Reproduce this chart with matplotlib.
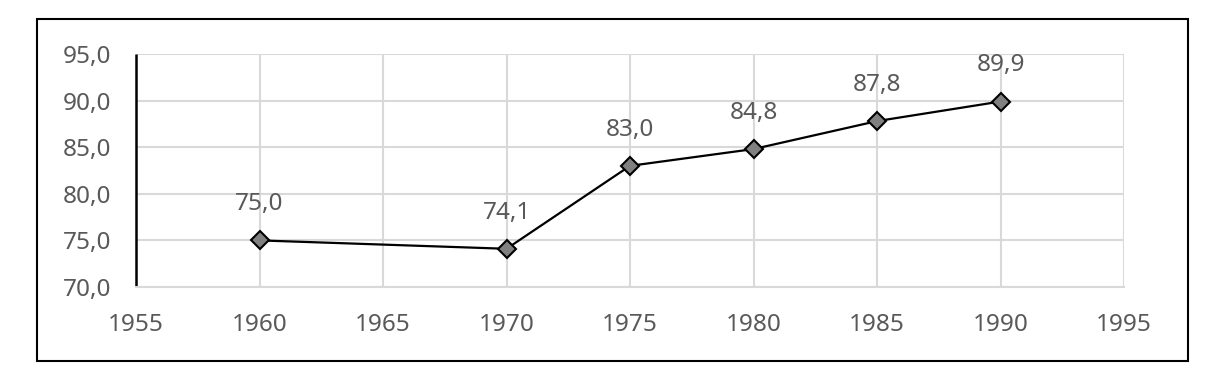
import matplotlib
matplotlib.use("Agg")
import matplotlib.pyplot as plt
from matplotlib.ticker import FuncFormatter, MultipleLocator
from matplotlib.patches import Rectangle

years = [1960, 1970, 1975, 1980, 1985, 1990]
values = [75.0, 74.1, 83.0, 84.8, 87.8, 89.9]

plt.rcParams['font.family'] = ['Noto Sans', 'DejaVu Sans']
txt = '#595959'
fs = 17.5

fig = plt.figure(figsize=(12.13, 3.72), dpi=100)
W, H = 1213, 372
ax = fig.add_axes([136 / W, 1 - 287 / H, (1124 - 136) / W, (287 - 54) / H])

ax.set_xlim(1955, 1995)
ax.set_ylim(70, 95)
ax.xaxis.set_major_locator(MultipleLocator(5))
ax.yaxis.set_major_locator(MultipleLocator(5))
ax.yaxis.set_major_formatter(FuncFormatter(lambda v, p: f"{v:.1f}".replace('.', ',')))
ax.grid(True, color='#d9d9d9', linewidth=1.5)
ax.set_axisbelow(True)
for s in ['top', 'right']:
    ax.spines[s].set_visible(False)
ax.spines['bottom'].set_color('#d9d9d9')
ax.spines['bottom'].set_linewidth(1.5)
ax.spines['left'].set_color('black')
ax.spines['left'].set_linewidth(1.8)
ax.spines['left'].set_capstyle('butt')
ax.tick_params(length=0, labelsize=fs, colors=txt)
ax.tick_params(axis='y', pad=18)
ax.tick_params(axis='x', pad=19)

ax.plot(years, values, color='black', linewidth=1.6, marker='D', markersize=9,
        markerfacecolor='#808080', markeredgecolor='black', markeredgewidth=1.5, zorder=3)
for x, y in zip(years, values):
    ax.annotate(f"{y:.1f}".replace('.', ','), (x, y), xytext=(0, 26), textcoords='offset points',
                ha='center', va='center', fontsize=fs, color=txt)

fig.patches.append(Rectangle((37 / W, 1 - 361 / H), (1188 - 37) / W, (361 - 19) / H,
                             transform=fig.transFigure, fill=False, edgecolor='black', linewidth=1.5))

fig.savefig('out.png', dpi=100)
